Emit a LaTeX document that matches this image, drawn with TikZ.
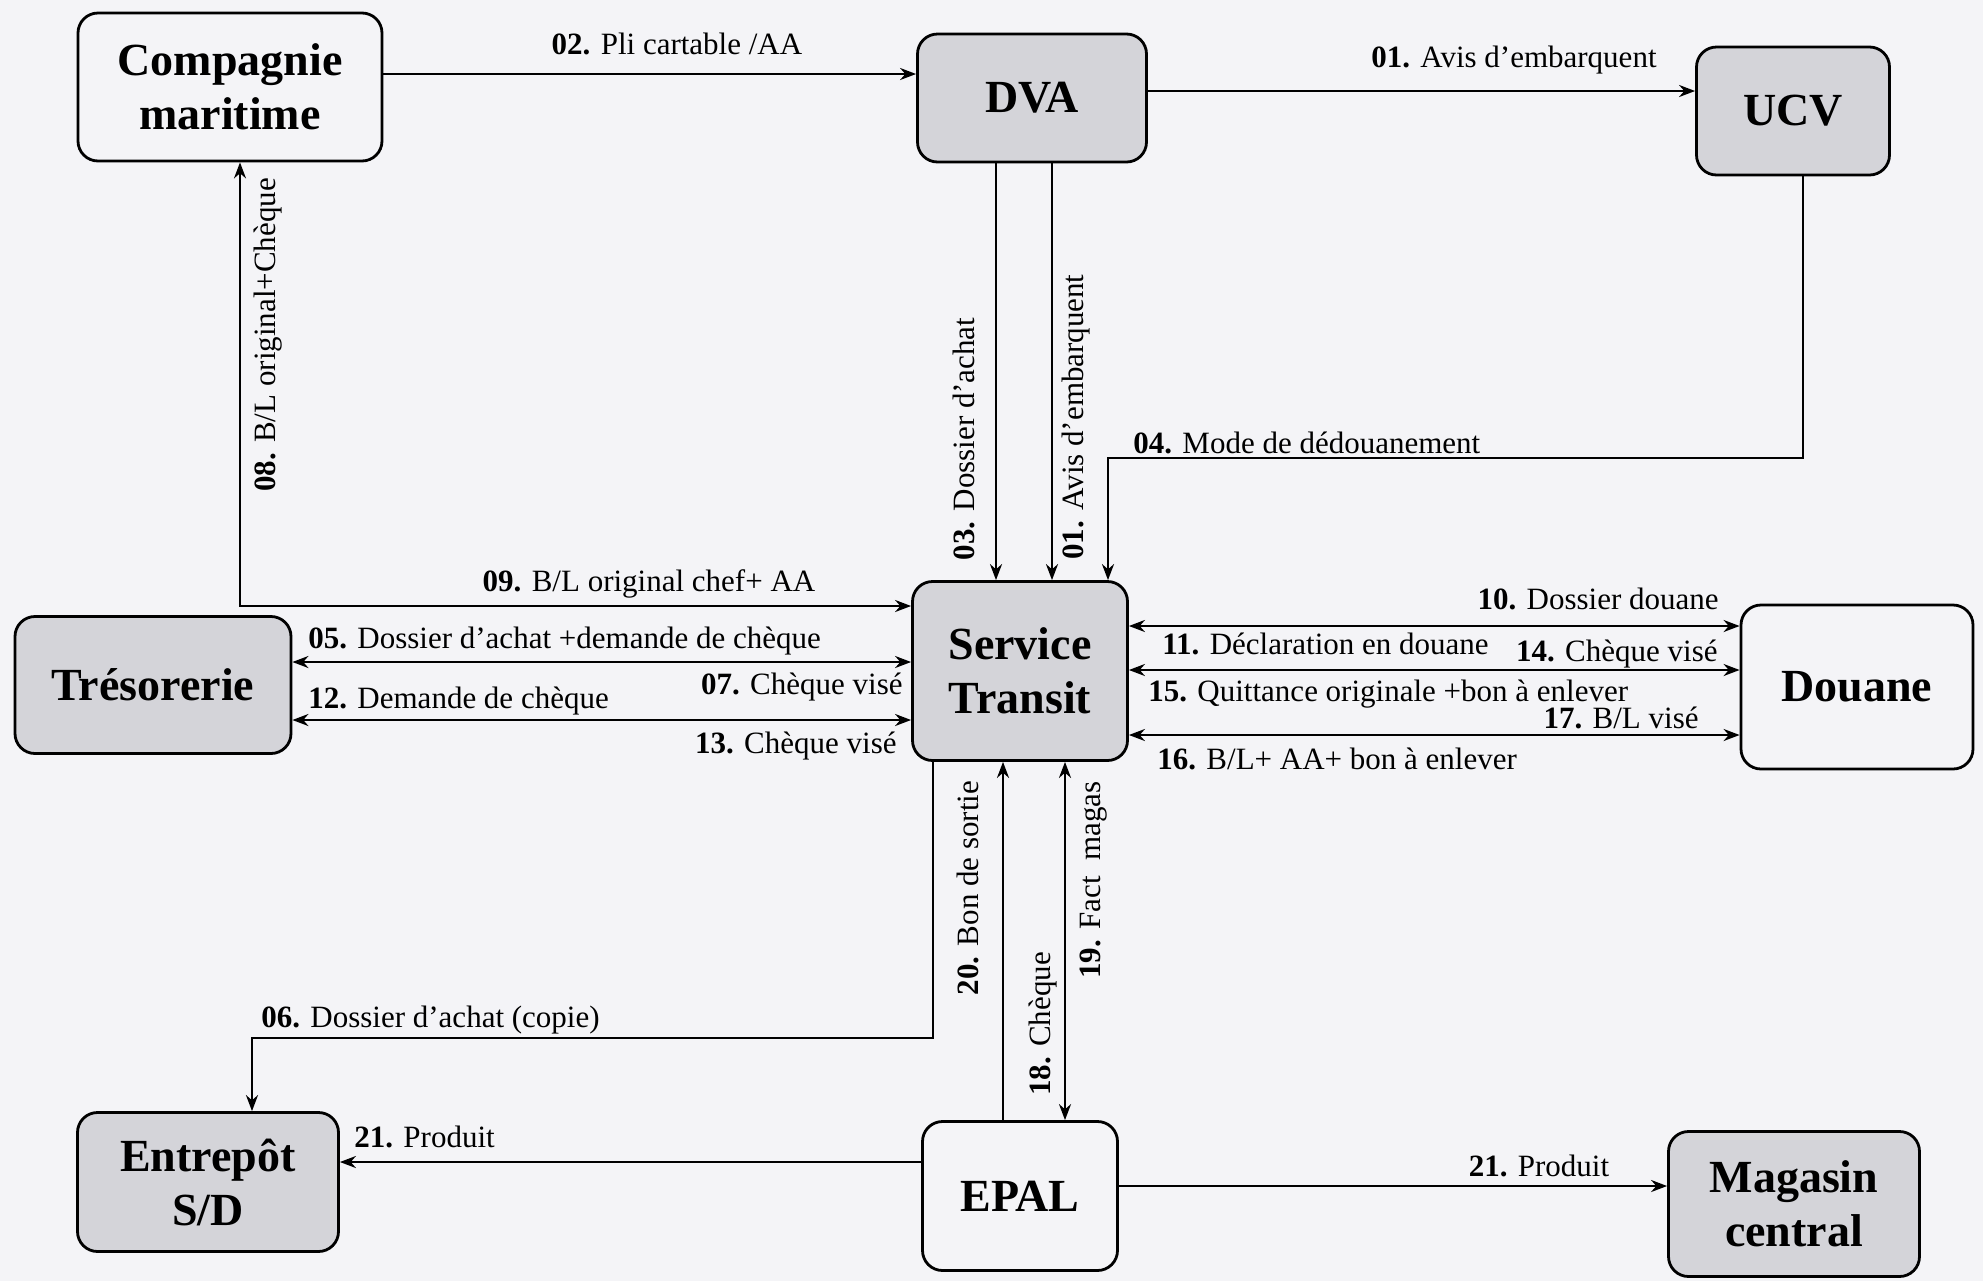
\documentclass[tikz,border=0pt]{standalone}
\usepackage{fontspec}
\setmainfont{Liberation Serif}
\usetikzlibrary{arrows.meta}
\definecolor{paper}{RGB}{244,244,247}
\definecolor{shade}{RGB}{212,212,217}

\begin{document}
\begin{tikzpicture}[x=0.5pt,y=-0.5pt,
  box/.style={draw=black, line width=1.4pt, rounded corners=10pt, align=center,
    font=\fontsize{23}{27}\selectfont\bfseries, inner sep=0pt},
  plainbox/.style={box, fill=paper},
  shadedbox/.style={box, fill=shade},
  tip/.tip={Stealth[length=8pt,width=6pt]},
  flow/.style={line width=1.15pt, -tip},
  twoway/.style={line width=1.15pt, tip-tip},
  lbl/.style={font=\fontsize{15.5}{18}\selectfont, inner sep=1pt},
]
% page
\fill[paper] (0,0) rectangle (1983,1281);

% actors
\node[plainbox,  minimum width=152pt,   minimum height=74pt]   (cm)   at (230,87)   {Compagnie\\maritime};
\node[shadedbox, minimum width=114.5pt, minimum height=64pt]   (dva)  at (1032,98)  {DVA};
\node[shadedbox, minimum width=96.5pt,  minimum height=64pt]   (ucv)  at (1793,111) {UCV};
\node[shadedbox, minimum width=138pt,   minimum height=68.5pt] (tre)  at (153,685)  {Trésorerie};
\node[shadedbox, minimum width=107.5pt, minimum height=89.5pt] (st)   at (1020,671) {Service\\Transit};
\node[plainbox,  minimum width=116pt,   minimum height=82pt]   (dou)  at (1857,687) {Douane};
\node[shadedbox, minimum width=130.5pt, minimum height=69.5pt] (ent)  at (208,1182) {Entrepôt\\S/D};
\node[plainbox,  minimum width=97.5pt,  minimum height=74.5pt] (epal) at (1020,1196) {EPAL};
\node[shadedbox, minimum width=125.5pt, minimum height=72.5pt] (mag)  at (1794,1204) {Magasin\\central};

% routing rows, columns and bends
\coordinate (r02) at (0,74);
\coordinate (r01) at (0,91);
\coordinate (c03) at (996,0);
\coordinate (c01) at (1052,0);
\coordinate (k04a) at (1803,458);
\coordinate (k04b) at (1108,458);
\coordinate (k08) at (240,606);
\coordinate (r05) at (0,662);
\coordinate (r12) at (0,720);
\coordinate (r10) at (0,626);
\coordinate (r14) at (0,670);
\coordinate (r16) at (0,735);
\coordinate (k06a) at (933,1038);
\coordinate (k06b) at (252,1038);
\coordinate (c20) at (1003,0);
\coordinate (c18) at (1065,0);
\coordinate (r21a) at (0,1162);
\coordinate (r21b) at (0,1186);

% flows
\draw[flow] (cm.east |- r02) -- (dva.west |- r02);
\draw[flow] (dva.east |- r01) -- (ucv.west |- r01);
\draw[flow] (dva.south -| c03) -- (st.north -| c03);
\draw[flow] (dva.south -| c01) -- (st.north -| c01);
\draw[flow] (ucv.south -| k04a) -- (k04a) -- (k04b) -- (st.north -| k04b);
\draw[twoway] (cm.south -| k08) -- (k08) -- (st.west |- k08);
\draw[twoway] (tre.east |- r05) -- (st.west |- r05);
\draw[twoway] (tre.east |- r12) -- (st.west |- r12);
\draw[twoway] (st.east |- r10) -- (dou.west |- r10);
\draw[twoway] (st.east |- r14) -- (dou.west |- r14);
\draw[twoway] (st.east |- r16) -- (dou.west |- r16);
\draw[flow] (st.south -| k06a) -- (k06a) -- (k06b) -- (ent.north -| k06b);
\draw[flow] (epal.north -| c20) -- (st.south -| c20);
\draw[twoway] (st.south -| c18) -- (epal.north -| c18);
\draw[flow] (epal.west |- r21a) -- (ent.east |- r21a);
\draw[flow] (epal.east |- r21b) -- (mag.west |- r21b);

% flow labels
\node[lbl] (l02) at (677,44) {\textbf{02.} Pli cartable /AA};
\node[lbl] (l01) at (1514,60) {\textbf{01.} Avis d’embarquent};
\node[lbl, rotate=90] (l03) at (964,439) {\textbf{03.} Dossier d’achat};
\node[lbl, rotate=90] (l01v) at (1076,417) {\textbf{01.} Avis d’embarquent};
\node[lbl, anchor=west] (l04) at (1131,443) {\textbf{04.} Mode de dédouanement};
\node[lbl, rotate=90] (l08) at (268,335) {\textbf{08.} B/L original+Chèque};
\node[lbl] (l09) at (649,584) {\textbf{09.} B/L original chef+ AA};
\node[lbl, anchor=west] (l05) at (306,641) {\textbf{05.} Dossier d’achat +demande de chèque};
\node[lbl, anchor=east] (l07) at (905,687) {\textbf{07.} Chèque visé};
\node[lbl, anchor=west] (l12) at (306,701) {\textbf{12.} Demande de chèque};
\node[lbl, anchor=east] (l13) at (899,746) {\textbf{13.} Chèque visé};
\node[lbl, anchor=east] (l10) at (1721,599) {\textbf{10.} Dossier douane};
\node[lbl, anchor=west] (l11) at (1160,644) {\textbf{11.} Déclaration en douane};
\node[lbl, anchor=east] (l14) at (1720,654) {\textbf{14.} Chèque visé};
\node[lbl, anchor=west] (l15) at (1146,694) {\textbf{15.} Quittance originale +bon à enlever};
\node[lbl, anchor=east] (l17) at (1701,718) {\textbf{17.} B/L visé};
\node[lbl, anchor=west] (l16) at (1155,759) {\textbf{16.} B/L+ AA+ bon à enlever};
\node[lbl, rotate=90] (l20) at (968,888) {\textbf{20.} Bon de sortie};
\node[lbl, rotate=90] (l18) at (1043,1024) {\textbf{18.} Chèque};
\node[lbl, rotate=90] (l19) at (1094,880) {\textbf{19.} Fact\ \ magas};
\node[lbl, anchor=west] (l06) at (259,1020) {\textbf{06.} Dossier d’achat (copie)};
\node[lbl, anchor=west] (l21a) at (352,1137) {\textbf{21.} Produit};
\node[lbl] (l21b) at (1539,1166) {\textbf{21.} Produit};
\end{tikzpicture}
\end{document}
